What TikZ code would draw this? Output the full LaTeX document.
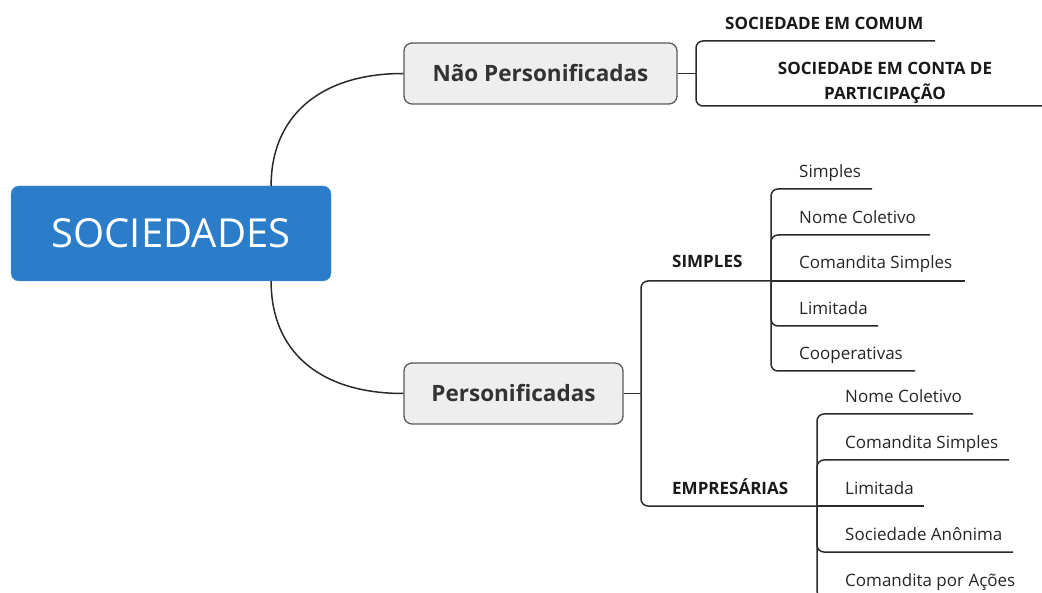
\documentclass[tikz,border=0pt]{standalone}
\usepackage{fontspec}
\setmainfont{Open Sans}
\usetikzlibrary{calc}
\definecolor{rootblue}{HTML}{2B7CC9}
\definecolor{boxfill}{HTML}{EEEEEE}
\definecolor{boxline}{HTML}{5A5A5A}
\definecolor{linecol}{HTML}{2A2A2A}
\begin{document}
\begin{tikzpicture}[x=1pt,y=-1pt,
  rootbox/.style={fill=rootblue,draw=rootblue!80!white,rounded corners=8pt,minimum width=320pt,minimum height=95pt,text=white,font=\fontsize{40}{48}\selectfont,inner sep=0pt},
  midbox/.style={fill=boxfill,draw=boxline,line width=1.3pt,rounded corners=8pt,minimum height=61pt,font=\fontsize{22.5}{27}\selectfont\bfseries,text=black!80,inner sep=0pt},
  captext/.style={font=\fontsize{17}{25}\selectfont\bfseries,text=black!90,inner sep=0pt},
  leaf/.style={font=\fontsize{17}{20}\selectfont,text=black!85,inner sep=0pt},
  conn/.style={draw=linecol,line width=1.5pt},
  elbow/.style={conn,rounded corners=7pt}]
\useasboundingbox (0,0) rectangle (1042,593);
\clip (0,0) rectangle (1042,593);

% root and middle boxes
\node[rootbox] (root) at (171,233.5) {SOCIEDADES};
\node[midbox,minimum width=273pt] (naop) at (540.5,73.5) {Não Personificadas};
\node[midbox,minimum width=219pt] (pers) at (513.5,393.5) {Personificadas};

\coordinate (rootN) at ($(root.north west)!0.8125!(root.north east)$);
\coordinate (rootS) at ($(root.south west)!0.8125!(root.south east)$);
\draw[conn] (rootN) .. controls (271,118) and (318,73.5) .. (naop.west);
\draw[conn] (rootS) .. controls (271,350) and (318,393.5) .. (pers.west);

% Nao Personificadas branch
\coordinate (jn) at (696,73.5);
\draw[conn] (naop.east) -- (jn);
\node[captext,anchor=base west] (comum) at (725,30) {SOCIEDADE EM COMUM};
\node[captext,anchor=base,align=center] (conta) at (885,100) {SOCIEDADE EM CONTA DE\\PARTICIPAÇÃO};
\coordinate (comumR) at (935,41);
\coordinate (contaR) at (1060,106);
\draw[elbow] (jn) |- (comumR);
\draw[elbow] (jn) |- (contaR);

% Personificadas branch
\coordinate (jp) at (641,393.5);
\draw[conn] (pers.east) -- (jp);
\node[captext,anchor=base west] (simp) at (672,268) {SIMPLES};
\node[captext,anchor=base west] (empr) at (672,494) {EMPRESÁRIAS};
\coordinate (js) at (771,281);
\coordinate (je) at (817,506);
\draw[elbow] (jp) |- (js);
\draw[elbow] (jp) |- (je);

% SIMPLES children
\node[leaf,anchor=base west] (s1) at (799,178) {Simples};
\node[leaf,anchor=base west] (s2) at (799,224) {Nome Coletivo};
\node[leaf,anchor=base west] (s3) at (799,269) {Comandita Simples};
\node[leaf,anchor=base west] (s4) at (799,315) {Limitada};
\node[leaf,anchor=base west] (s5) at (799,360) {Cooperativas};
\coordinate (s1R) at (872,189);
\coordinate (s2R) at (930,235);
\coordinate (s3R) at (965,281);
\coordinate (s4R) at (878,326);
\coordinate (s5R) at (915,371);
\foreach \c in {s1R,s2R,s4R,s5R} \draw[elbow] (js) |- (\c);
\draw[conn] (js) -- (s3R);

% EMPRESARIAS children
\node[leaf,anchor=base west] (e1) at (845,403) {Nome Coletivo};
\node[leaf,anchor=base west] (e2) at (845,449) {Comandita Simples};
\node[leaf,anchor=base west] (e3) at (845,494) {Limitada};
\node[leaf,anchor=base west] (e4) at (845,540) {Sociedade Anônima};
\node[leaf,anchor=base west] (e5) at (845,586) {Comandita por Ações};
\coordinate (e1R) at (973,414);
\coordinate (e2R) at (1009,460);
\coordinate (e3R) at (924,506);
\coordinate (e4R) at (1013,552);
\coordinate (e5R) at (1045,598);
\foreach \c in {e1R,e2R,e4R,e5R} \draw[elbow] (je) |- (\c);
\draw[conn] (je) -- (e3R);
\end{tikzpicture}
\end{document}
